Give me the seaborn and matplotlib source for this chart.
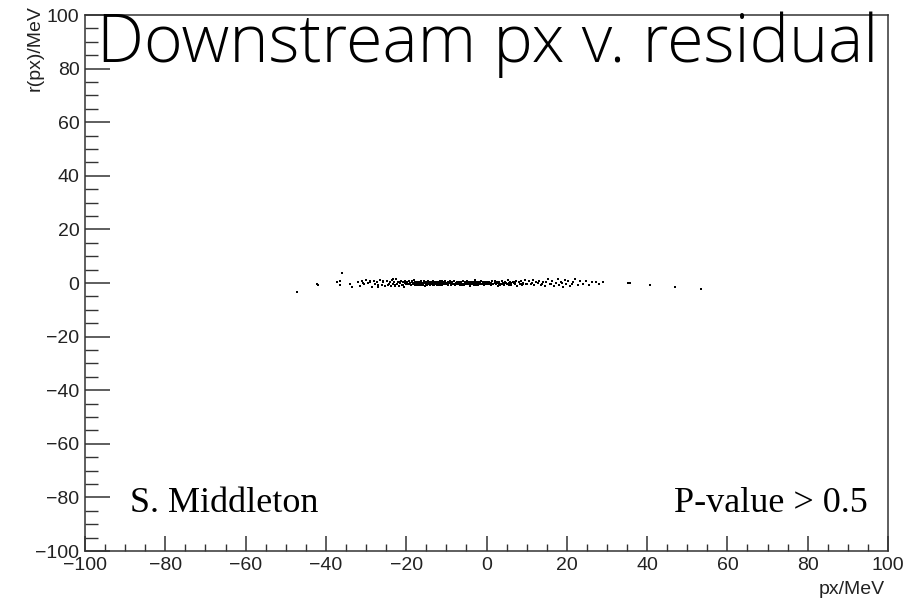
import numpy as np
import pandas as pd
import matplotlib
matplotlib.use("Agg")
import matplotlib.pyplot as plt
import seaborn as sns
from matplotlib.ticker import MultipleLocator

# ---- data ----
px_out = [-47.2, -42.3, -42.0, -37.2, -36.6, -36.4, -35.9, -34.1, -33.6,
          29.0, 35.3, 35.8, 40.6, 47.0, 53.5]
r_out = [-3.4, -0.3, -0.7, 0.4, 0.9, -0.7, 3.7, -0.4, -1.5,
         0.4, 0.0, 0.0, -0.6, -1.5, -2.2]

px_tail_left = [-32.1, -31.6, -31.0, -30.4, -29.9, -29.5, -29.0, -28.6, -28.1, -27.7,
                -27.3, -26.9, -26.5, -26.1, -25.7, -25.3, -30.8, -28.9, -27.0, -25.9]
r_tail_left = [0.2, -1.2, 0.7, -0.5, 1.3, -0.1, 0.5, -1.6, 0.9, -0.3,
               0.4, -0.9, 1.1, -0.6, 0.2, -1.1, 0.0, 0.9, -1.4, 0.6]

px_seg_a = [-24.8, -24.5, -24.1, -23.9, -23.6, -23.2, -23.0, -22.7, -22.5, -22.2,
            -22.0, -21.8, -21.5, -21.3, -21.1, -20.9, -20.6, -20.4, -20.2, -20.0,
            -24.3, -23.4, -22.9, -21.7, -20.8]
r_seg_a = [0.6, -0.8, 0.2, -1.3, 1.0, -0.4, 0.3, -0.9, 1.4, -0.2,
           0.5, -1.1, 0.1, 0.8, -0.6, 0.4, -1.4, 0.0, 0.9, -0.3,
           -0.5, 1.6, -1.0, 0.3, -0.7]

px_seg_b = [-19.8, -19.6, -19.4, -19.2, -19.0, -18.8, -18.6, -18.4, -18.2, -18.0,
            -17.8, -17.6, -17.4, -17.2, -17.0, -16.8, -16.6, -16.4, -16.2, -16.0,
            -15.8, -15.6, -15.4, -15.2, -15.0, -14.8, -14.6, -14.4, -14.2, -14.0,
            -13.8, -13.6, -13.4, -13.2, -13.0, -12.8, -12.6, -12.4, -12.2, -12.0,
            -11.8, -11.6, -11.4, -11.2, -11.0, -10.8, -10.6, -10.4, -10.2, -10.0,
            -19.5, -18.5, -17.5, -16.5, -15.5, -14.5, -13.5, -12.5, -11.5, -10.5,
            -19.1, -18.3, -17.3, -16.7, -15.9, -15.1, -14.3, -13.7, -12.9, -12.1,
            -11.3, -10.7, -17.9, -16.1, -14.9, -13.1, -11.9, -10.3]
r_seg_b = [0.3, -0.5, 0.8, -0.2, 0.1, -0.9, 0.6, -0.4, 0.0, 1.1,
           -0.7, 0.2, -0.3, 0.5, -0.1, -0.8, 0.4, 0.9, -0.6, 0.1,
           -0.2, 0.7, -1.0, 0.3, -0.4, 0.0, 0.6, -0.5, 0.2, -0.9,
           0.4, -0.1, 0.8, -0.6, 0.1, -0.3, 0.5, -0.7, 0.0, 0.3,
           -0.4, 0.6, -0.2, 0.9, -0.8, 0.2, -0.1, 0.4, -0.5, 0.1,
           -0.3, 0.5, -0.6, 0.2, -0.1, 0.7, -0.4, 0.0, -0.9, 0.3,
           -0.2, 0.1, -0.5, 0.3, -0.7, 0.5, -0.1, -0.4, 0.2, -0.6,
           0.0, -0.3, 0.4, -0.2, -0.6, 0.1, -0.4, 0.6]

px_seg_c = [-9.8, -9.6, -9.3, -9.1, -8.8, -8.6, -8.3, -8.1, -7.9, -7.6,
            -7.4, -7.1, -6.9, -6.6, -6.4, -6.2, -5.9, -5.7, -5.4, -5.2,
            -4.9, -4.7, -4.5, -4.2, -4.0, -3.7, -3.5, -3.2, -3.0, -2.8,
            -2.5, -2.3, -2.0, -1.8, -1.5, -1.3, -1.1, -0.8, -0.6, -0.3,
            -9.5, -8.5, -7.5, -6.5, -5.5, -4.4, -3.4, -2.4, -1.4, -0.4,
            -9.0, -7.8, -6.8, -5.8, -4.8, -3.8, -2.9, -1.9, -0.9, -0.1]
r_seg_c = [-0.4, 0.3, -0.1, 0.7, -0.6, 0.2, -0.3, 0.9, -0.8, 0.0,
           0.5, -0.5, 0.1, -0.9, 0.4, -0.2, 0.6, -0.7, 0.2, -0.1,
           0.8, -0.4, 0.0, -1.0, 0.3, -0.2, 0.5, -0.6, 0.1, 1.0,
           -0.3, 0.4, -0.8, 0.2, -0.1, 0.6, -0.5, 0.3, -0.2, 0.0,
           -0.2, 0.4, -0.3, 0.1, -0.5, 0.2, -0.1, 0.5, -0.4, 0.3,
           0.1, -0.6, 0.3, -0.3, 0.0, -0.5, 0.2, -0.1, 0.4, -0.3]

px_core = [-17.7, -17.1, -16.5, -15.7, -15.3, -14.7, -14.1, -13.3, -12.7, -12.3,
           -11.7, -11.1, -10.9, -10.1, -9.7, -9.2, -8.7, -8.2, -7.7, -7.2,
           -6.7, -6.3, -5.6, -5.1, -4.6, -4.1, -3.6, -3.1, -2.6, -2.1,
           -1.6, -1.0, -0.5, 0.3, 0.9, 1.6, 2.2, 3.0, 3.7, 4.5,
           -16.9, -13.9, -11.5, -8.9, -6.1, -3.3, -0.7, 2.7]
r_core = [-0.3, -0.6, 0.0, -0.4, -0.1, -0.5, -0.2, -0.7, 0.1, -0.3,
          -0.1, -0.5, 0.2, -0.4, -0.6, 0.0, -0.2, -0.5, 0.1, -0.3,
          -0.6, 0.0, -0.4, -0.2, 0.1, -0.5, -0.1, -0.3, -0.6, 0.0,
          -0.2, -0.4, 0.1, -0.3, -0.1, -0.5, 0.0, -0.2, -0.4, -0.1,
          -0.8, 0.3, -0.7, 0.3, -0.8, 0.2, -0.6, 0.3]

px_seg_d = [0.2, 0.5, 0.8, 1.1, 1.4, 1.7, 2.0, 2.3, 2.6, 2.9,
            3.2, 3.5, 3.8, 4.1, 4.4, 4.7, 5.0, 5.3, 5.6, 5.9,
            6.2, 6.5, 6.8, 7.1, 7.4, 7.7, 8.0, 8.3, 8.6, 8.9,
            9.2, 9.5, 9.8, 1.0, 2.5, 4.0, 5.5, 7.0, 8.5, 3.3,
            6.0, 9.0, 0.7, 4.9]
r_seg_d = [0.4, -0.3, 0.1, -0.8, 0.6, -0.2, 0.9, -0.5, 0.0, -1.0,
           0.3, -0.4, 0.7, -0.1, -0.7, 0.5, -0.3, 1.1, -0.6, 0.2,
           -0.9, 0.4, 0.0, -0.4, 0.8, -1.2, 0.3, -0.2, 0.6, -0.7,
           0.1, 1.0, -0.5, -0.1, 0.2, -0.3, 0.0, 0.4, -0.2, -0.6,
           0.1, -0.4, 0.2, 0.0]

px_seg_e = [10.2, 10.6, 11.0, 11.5, 11.9, 12.3, 12.8, 13.2, 13.6, 14.1,
            14.5, 14.9, 15.4, 15.8, 16.3, 16.8, 17.2, 17.7, 18.1, 18.6,
            19.0, 19.5, 19.9, 20.4, 20.9, 21.5, 22.1, 22.8, 23.4, 24.0,
            24.7, 25.5, 26.3, 27.2, 28.0, 11.3, 13.9, 16.0, 18.9, 21.2]
r_seg_e = [-0.5, 0.6, -0.2, 1.0, -0.9, 0.3, -0.1, 0.8, -0.6, 0.2,
           -1.3, 0.5, 1.4, -0.4, 0.9, -1.0, 0.1, 1.6, -0.7, 0.4,
           -1.5, 1.2, -0.3, 0.7, -1.1, 0.3, 1.5, -0.6, 0.9, -0.2,
           0.6, -0.8, 0.2, 0.4, -0.3, 0.0, -0.3, -0.2, 0.1, -0.4]

title = "Downstream px v. residual"
xlabel = "px/MeV"
ylabel = "r(px)/MeV"
note_left = "S. Middleton"
note_right = "P-value > 0.5"

# ---- build table ----
px = (px_out + px_tail_left + px_seg_a + px_seg_b + px_seg_c + px_core
      + px_seg_d + px_seg_e)
rr = (r_out + r_tail_left + r_seg_a + r_seg_b + r_seg_c + r_core
      + r_seg_d + r_seg_e)
df = pd.DataFrame({"px": px, "r": rr})

sns.set_theme(style="white")
plt.rcParams["font.family"] = ["Liberation Sans", "DejaVu Sans"]

W, H = 917, 609
fig = plt.figure(figsize=(W / 100, H / 100), dpi=100)
fig.patch.set_facecolor("white")
ax = fig.add_axes([85 / W, 1 - 551 / H, (888 - 85) / W, (551 - 15) / H])
ax.set_facecolor("white")

sns.scatterplot(data=df, x="px", y="r", ax=ax, color="black", marker="s",
                s=4.5, linewidth=0, legend=False)

ax.set_xlim(-100, 100)
ax.set_ylim(-100, 100)
ax.xaxis.set_major_locator(MultipleLocator(20))
ax.xaxis.set_minor_locator(MultipleLocator(5))
ax.yaxis.set_major_locator(MultipleLocator(20))
ax.yaxis.set_minor_locator(MultipleLocator(5))

tc = "#333333"
ax.tick_params(axis="x", which="major", direction="in", length=11, width=1.1,
               color=tc, labelsize=14, labelcolor="#222222", pad=4,
               bottom=True, top=False)
ax.tick_params(axis="x", which="minor", direction="in", length=5, width=1.0,
               color=tc, bottom=True, top=False)
ax.tick_params(axis="y", which="major", direction="in", length=18, width=1.1,
               color=tc, labelsize=14, labelcolor="#222222", pad=4,
               left=True, right=False)
ax.tick_params(axis="y", which="minor", direction="in", length=9, width=1.0,
               color=tc, left=True, right=False)
for sp in ax.spines.values():
    sp.set_visible(True)
    sp.set_color(tc)
    sp.set_linewidth(1.1)

ax.set_xticklabels([f"{int(v)}".replace("-", "\u2212") for v in ax.get_xticks()])
ax.set_yticklabels([f"{int(v)}".replace("-", "\u2212") for v in ax.get_yticks()])

ax.set_xlabel("")
ax.set_ylabel("")
fig.text(885 / W, 1 - 590 / H, xlabel, ha="right", va="center",
         fontsize=14, color="#222222")
fig.text(35 / W, 1 - 5 / H, ylabel, ha="center", va="top", rotation=90,
         fontsize=14, color="#222222")

# title: fit its width to the reference span (x 97 -> 878 px)
t = fig.text(97 / W, 1 - 62 / H, title, ha="left", va="baseline",
             fontsize=46, family=["Open Sans", "DejaVu Sans"], fontweight=300,
             color="black")
fig.canvas.draw()
bb = t.get_window_extent(renderer=fig.canvas.get_renderer())
t.set_fontsize(46 * (878 - 97) / bb.width)

fig.text(130 / W, 1 - 503 / H, note_left, ha="left", va="center",
         fontsize=26, family=["Liberation Serif", "DejaVu Serif"], color="black")
fig.text(868 / W, 1 - 503 / H, note_right, ha="right", va="center",
         fontsize=26, family=["Liberation Serif", "DejaVu Serif"], color="black")

fig.savefig("out.png", dpi=100, facecolor="white")
